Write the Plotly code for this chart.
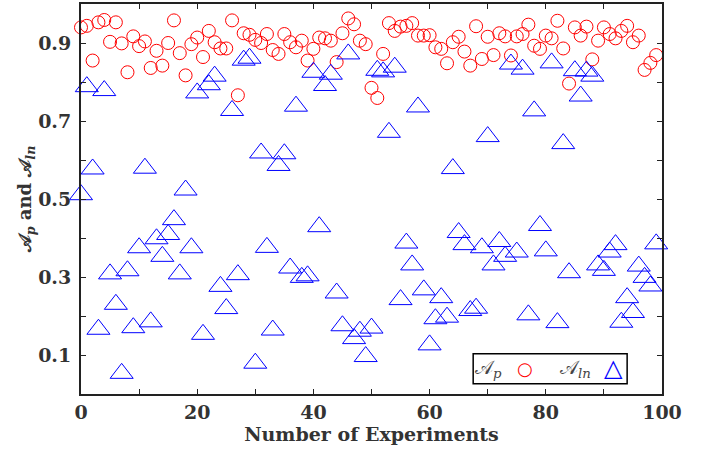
import plotly.graph_objects as go

# Experiment index and the two accuracy measures per experiment
experiments = list(range(100))

acc_p = [
    0.940, 0.944, 0.855, 0.953, 0.959, 0.903, 0.953, 0.899, 0.825, 0.917,
    0.892, 0.904, 0.836, 0.880, 0.842, 0.900, 0.958, 0.874, 0.817, 0.897,
    0.914, 0.864, 0.931, 0.902, 0.886, 0.886, 0.958, 0.766, 0.925, 0.921,
    0.908, 0.900, 0.923, 0.882, 0.872, 0.923, 0.902, 0.889, 0.906, 0.855,
    0.885, 0.914, 0.912, 0.906, 0.851, 0.925, 0.963, 0.948, 0.906, 0.897,
    0.785, 0.759, 0.872, 0.951, 0.931, 0.942, 0.944, 0.951, 0.919, 0.919,
    0.920, 0.889, 0.885, 0.848, 0.902, 0.916, 0.878, 0.842, 0.943, 0.859,
    0.916, 0.869, 0.925, 0.917, 0.868, 0.917, 0.923, 0.947, 0.893, 0.885,
    0.919, 0.912, 0.957, 0.886, 0.796, 0.940, 0.919, 0.942, 0.858, 0.906,
    0.940, 0.923, 0.912, 0.931, 0.944, 0.902, 0.919, 0.831, 0.849, 0.869,
]

acc_ln = [
    0.511, 0.788, 0.577, 0.166, 0.778, 0.308, 0.230, 0.053, 0.316, 0.170,
    0.375, 0.579, 0.185, 0.398, 0.353, 0.409, 0.447, 0.308, 0.523, 0.375,
    0.772, 0.153, 0.793, 0.815, 0.276, 0.219, 0.727, 0.306, 0.856, 0.861,
    0.079, 0.618, 0.376, 0.164, 0.586, 0.616, 0.323, 0.738, 0.299, 0.303,
    0.825, 0.429, 0.791, 0.820, 0.259, 0.175, 0.872, 0.142, 0.161, 0.096,
    0.169, 0.830, 0.826, 0.671, 0.838, 0.242, 0.387, 0.331, 0.736, 0.267,
    0.126, 0.193, 0.247, 0.197, 0.578, 0.414, 0.383, 0.214, 0.220, 0.375,
    0.660, 0.331, 0.391, 0.353, 0.846, 0.364, 0.833, 0.203, 0.726, 0.432,
    0.367, 0.849, 0.183, 0.642, 0.311, 0.829, 0.764, 0.828, 0.815, 0.331,
    0.317, 0.364, 0.383, 0.184, 0.247, 0.209, 0.328, 0.299, 0.277, 0.385,
]

# Labelled ticks; unlabelled ticks in between come from the minor tick settings
x_ticks = list(range(0, 101, 20))
y_ticks = [0.1, 0.3, 0.5, 0.7, 0.9]
y_labels = [f"{v:.1f}" for v in y_ticks]

SERIF = "DejaVu Serif"
AXIS_COLOR = "#222222"
TEXT_COLOR = "#333333"

fig = go.Figure()

fig.add_trace(go.Scatter(
    x=experiments, y=acc_p, mode="markers", name="𝒜p",
    marker=dict(symbol="circle-open", size=13, color="#ff0000",
                line=dict(width=1, color="#ff0000")),
    cliponaxis=False, showlegend=False,
))

fig.add_trace(go.Scatter(
    x=experiments, y=acc_ln, mode="markers", name="𝒜ln",
    marker=dict(symbol="triangle-up-open", size=20, color="#0000ff",
                line=dict(width=1, color="#0000ff")),
    cliponaxis=False, showlegend=False,
))

axis_common = dict(
    showline=True, linecolor=AXIS_COLOR, linewidth=2, mirror="ticks",
    ticks="inside", ticklen=5, tickwidth=1.2, tickcolor=AXIS_COLOR,
    showgrid=False, zeroline=False,
    tickfont=dict(family=SERIF, size=19, color=TEXT_COLOR, weight="bold"),
)

fig.update_xaxes(
    range=[0, 100], tickmode="array", tickvals=x_ticks,
    minor=dict(ticks="inside", dtick=10, ticklen=5, tickwidth=1.2,
               tickcolor=AXIS_COLOR, showgrid=False),
    title=dict(text="Number of Experiments", standoff=0,
               font=dict(family=SERIF, size=19, color=TEXT_COLOR, weight="bold")),
    **axis_common,
)
fig.update_yaxes(
    range=[0, 1], tickmode="array", tickvals=y_ticks, ticktext=y_labels,
    minor=dict(ticks="inside", tickvals=[0.2, 0.4, 0.6, 0.8], ticklen=5,
               tickwidth=1.2, tickcolor=AXIS_COLOR, showgrid=False),
    ticklabelstandoff=4,
    title=dict(text="𝒜<sub><i>p</i></sub> and 𝒜<sub><i>ln</i></sub>", standoff=2,
               font=dict(family=SERIF, size=18, color=TEXT_COLOR, weight="bold")),
    **axis_common,
)

# Legend box: label first, then the marker glyph
fig.add_shape(type="rect", xref="paper", yref="paper",
              x0=0.675, x1=0.940, y0=0.026, y1=0.103,
              line=dict(color="#000000", width=1.5), fillcolor="white")
legend_font = dict(family=SERIF, size=19, color="#444444")
legend_y = 0.066
for xpos, label, font in [
    (0.702, "𝒜<sub><i>p</i></sub>", legend_font),
    (0.764, "○", dict(family="DejaVu Sans", size=18, color="#ff0000")),
    (0.851, "𝒜<sub><i>ln</i></sub>", legend_font),
    (0.917, "△", dict(family="DejaVu Sans", size=24, color="#0000ff")),
]:
    fig.add_annotation(xref="paper", yref="paper", x=xpos, y=legend_y,
                       xanchor="center", yanchor="middle",
                       text=label, showarrow=False, font=font)

fig.update_layout(
    width=707, height=449,
    margin=dict(l=81, r=45, t=2, b=55),
    plot_bgcolor="white", paper_bgcolor="white",
)

fig.write_html("out.html")
